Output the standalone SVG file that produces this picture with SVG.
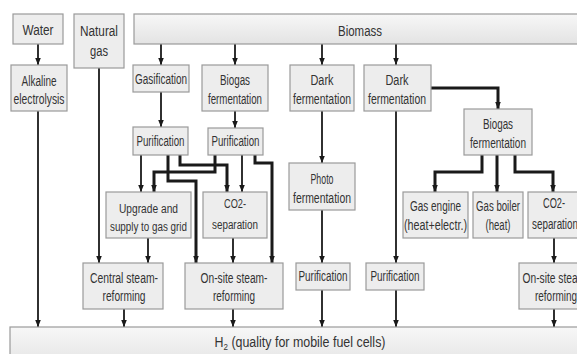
<svg xmlns="http://www.w3.org/2000/svg" width="577" height="354" viewBox="0 0 577 354">
<defs>
<linearGradient id="gb" x1="0" y1="0" x2="0" y2="1"><stop offset="0" stop-color="#f7f7f7"/><stop offset="1" stop-color="#e3e3e3"/></linearGradient>
<marker id="ah" viewBox="0 0 10 10" refX="10" refY="5" markerWidth="7" markerHeight="7" markerUnits="userSpaceOnUse" orient="auto"><path d="M0,1 L10,5 L0,9 z" fill="#1a1a1a"/></marker>
</defs>
<style>
.box{fill:#ededed;stroke:#9a9a9a;stroke-width:1.2}
.bar{fill:url(#gb);stroke:#9a9a9a;stroke-width:1.2}
.t{font-family:"Liberation Sans",Arial,sans-serif;font-size:14px;fill:#333;text-anchor:middle}
.s{font-size:12.5px}
.c{fill:none;stroke:#1a1a1a;stroke-width:1.8;marker-end:url(#ah)}
.k{fill:none;stroke:#1a1a1a;stroke-width:3;marker-end:url(#ah)}
</style>
<rect width="577" height="354" fill="#fff"/>
<g id="connectors">
<path class="c" d="M38,44 V65"/>
<path class="c" d="M38,111 V327"/>
<path class="c" d="M99,68 V263"/>
<path class="c" d="M161,44 V65"/>
<path class="c" d="M161,92 V127"/>
<path class="c" d="M235,44 V65"/>
<path class="c" d="M235,111 V128"/>
<path class="c" d="M322,44 V65"/>
<path class="c" d="M322,111 V163"/>
<path class="c" d="M322,210 V263"/>
<path class="c" d="M322,290 V327"/>
<path class="c" d="M396,44 V65"/>
<path class="c" d="M396,111 V263"/>
<path class="c" d="M396,290 V327"/>
<path class="k" d="M431,88 H498 V109"/>
<path class="k" d="M482,155 V172 H435 V192"/>
<path class="k" d="M497,155 V192"/>
<path class="k" d="M515,155 V172 H553 V192"/>
<path class="c" d="M554,238 V263"/>
<path class="c" d="M554,309 V327"/>
<path class="c" d="M141,155 V192"/>
<path class="k" d="M215,155 V172 H154 V192"/>
<path class="k" d="M180,155 V165 H227 V192"/>
<path class="k" d="M168,155 V181 H196 V263"/>
<path class="c" d="M242,155 V192"/>
<path class="k" d="M255,155 V163 H272 V263"/>
<path class="c" d="M148,238 V263"/>
<path class="c" d="M233,238 V263"/>
<path class="c" d="M124,309 V327"/>
<path class="c" d="M233,309 V327"/>
</g>
<g id="water"><rect class="box" x="13" y="14" width="50" height="30"/><text class="t" x="38" y="35" textLength="31" lengthAdjust="spacingAndGlyphs">Water</text></g>
<g id="natural-gas"><rect class="box" x="74" y="14" width="50" height="54"/><text class="t" x="99" y="36" textLength="38" lengthAdjust="spacingAndGlyphs">Natural</text><text class="t" x="99" y="56" textLength="18" lengthAdjust="spacingAndGlyphs">gas</text></g>
<g id="biomass"><rect class="bar" x="134" y="14" width="450" height="30"/><text class="t" x="360" y="36" textLength="44" lengthAdjust="spacingAndGlyphs">Biomass</text></g>
<g id="alkaline-electrolysis"><rect class="box" x="11" y="65" width="56" height="46"/><text class="t" x="39" y="86" textLength="35" lengthAdjust="spacingAndGlyphs">Alkaline</text><text class="t" x="39" y="104" textLength="51" lengthAdjust="spacingAndGlyphs">electrolysis</text></g>
<g id="gasification"><rect class="box" x="133" y="65" width="56" height="27"/><text class="t" x="161" y="84" textLength="52" lengthAdjust="spacingAndGlyphs">Gasification</text></g>
<g id="biogas-fermentation-1"><rect class="box" x="202" y="65" width="66" height="46"/><text class="t" x="235" y="85" textLength="30" lengthAdjust="spacingAndGlyphs">Biogas</text><text class="t" x="235" y="104" textLength="54" lengthAdjust="spacingAndGlyphs">fermentation</text></g>
<g id="dark-fermentation-1"><rect class="box" x="290" y="65" width="64" height="46"/><text class="t" x="322" y="85" textLength="23" lengthAdjust="spacingAndGlyphs">Dark</text><text class="t" x="322" y="104" textLength="58" lengthAdjust="spacingAndGlyphs">fermentation</text></g>
<g id="dark-fermentation-2"><rect class="box" x="364" y="65" width="67" height="46"/><text class="t" x="397" y="85" textLength="23" lengthAdjust="spacingAndGlyphs">Dark</text><text class="t" x="397" y="104" textLength="58" lengthAdjust="spacingAndGlyphs">fermentation</text></g>
<g id="biogas-fermentation-2"><rect class="box" x="464" y="109" width="68" height="46"/><text class="t" x="498" y="129" textLength="30" lengthAdjust="spacingAndGlyphs">Biogas</text><text class="t" x="498" y="148" textLength="56" lengthAdjust="spacingAndGlyphs">fermentation</text></g>
<g id="purification-1"><rect class="box" x="133" y="127" width="55" height="28"/><text class="t" x="160.5" y="146" textLength="48" lengthAdjust="spacingAndGlyphs">Purification</text></g>
<g id="purification-2"><rect class="box" x="208" y="128" width="55" height="27"/><text class="t" x="235.5" y="146" textLength="48" lengthAdjust="spacingAndGlyphs">Purification</text></g>
<g id="upgrade"><rect class="box" x="106" y="192" width="85" height="46"/><text class="t s" x="148.5" y="213" textLength="59" lengthAdjust="spacingAndGlyphs">Upgrade and</text><text class="t s" x="148.5" y="231" textLength="77" lengthAdjust="spacingAndGlyphs">supply to gas grid</text></g>
<g id="co2-separation-1"><rect class="box" x="203" y="192" width="64" height="46"/><text class="t s" x="235" y="208" textLength="22" lengthAdjust="spacingAndGlyphs">CO2-</text><text class="t s" x="235" y="229" textLength="46" lengthAdjust="spacingAndGlyphs">separation</text></g>
<g id="photo-fermentation"><rect class="box" x="289" y="163" width="66" height="47"/><text class="t" x="322" y="184" textLength="23" lengthAdjust="spacingAndGlyphs">Photo</text><text class="t" x="322" y="203" textLength="58" lengthAdjust="spacingAndGlyphs">fermentation</text></g>
<g id="gas-engine"><rect class="box" x="403" y="192" width="65" height="46"/><text class="t" x="435.5" y="211" textLength="51" lengthAdjust="spacingAndGlyphs">Gas engine</text><text class="t" x="435.5" y="230" textLength="63" lengthAdjust="spacingAndGlyphs">(heat+electr.)</text></g>
<g id="gas-boiler"><rect class="box" x="473" y="192" width="50" height="46"/><text class="t" x="498" y="211" textLength="44" lengthAdjust="spacingAndGlyphs">Gas boiler</text><text class="t" x="498" y="230" textLength="25" lengthAdjust="spacingAndGlyphs">(heat)</text></g>
<g id="co2-separation-2"><rect class="box" x="528" y="192" width="54" height="46"/><text class="t" x="554" y="208" textLength="22" lengthAdjust="spacingAndGlyphs">CO2-</text><text class="t" x="555" y="229" textLength="46" lengthAdjust="spacingAndGlyphs">separation</text></g>
<g id="central-steam-reforming"><rect class="box" x="83" y="263" width="80" height="46"/><text class="t" x="124" y="283" textLength="68" lengthAdjust="spacingAndGlyphs">Central steam-</text><text class="t" x="124" y="301" textLength="43" lengthAdjust="spacingAndGlyphs">reforming</text></g>
<g id="onsite-steam-reforming-1"><rect class="box" x="185" y="263" width="98" height="46"/><text class="t" x="234" y="283" textLength="67" lengthAdjust="spacingAndGlyphs">On-site steam-</text><text class="t" x="234" y="301" textLength="42" lengthAdjust="spacingAndGlyphs">reforming</text></g>
<g id="purification-3"><rect class="box" x="296" y="263" width="54" height="27"/><text class="t" x="323" y="281" textLength="49" lengthAdjust="spacingAndGlyphs">Purification</text></g>
<g id="purification-4"><rect class="box" x="366" y="263" width="58" height="27"/><text class="t" x="395" y="281" textLength="49" lengthAdjust="spacingAndGlyphs">Purification</text></g>
<g id="onsite-steam-reforming-2"><rect class="box" x="519" y="263" width="72" height="46"/><text class="t" x="556" y="283" textLength="67" lengthAdjust="spacingAndGlyphs">On-site steam-</text><text class="t" x="556" y="301" textLength="42" lengthAdjust="spacingAndGlyphs">reforming</text></g>
<g id="h2"><rect class="bar" x="10" y="327" width="580" height="40"/><text class="t" x="300" y="347" textLength="171" lengthAdjust="spacingAndGlyphs">H<tspan font-size="9" dy="3">2</tspan><tspan dy="-3"> (quality for mobile fuel cells)</tspan></text></g>
</svg>
